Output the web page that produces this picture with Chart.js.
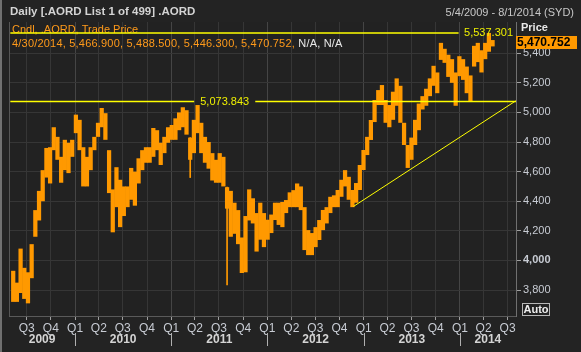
<!DOCTYPE html>
<html>
<head>
<meta charset="utf-8">
<script src="https://cdn.jsdelivr.net/npm/chart.js@4.4.1/dist/chart.umd.min.js"></script>
<style>
  html, body { margin: 0; padding: 0; background: #232323; }
  canvas { display: block; }
</style>
</head>
<body>
<canvas id="chart" width="581" height="352"></canvas>
<script>
// Daily .AORD (low / high)
const startDate = '2009-05-04';
const endDate = '2014-08-01';
const periodDays = 14;

const periodLows = [
  3720, 3720, 3780, 3740, 3710, 3880, 4160, 4270, 4400, 4560,
  4520, 4745, 4680, 4525, 4610, 4590, 4700, 4860, 4745, 4500,
  4500, 4610, 4745, 4835, 4900, 4815, 4455, 4190, 4360, 4225,
  4300, 4360, 4410, 4370, 4520, 4610, 4660, 4660, 4700, 4745,
  4645, 4725, 4795, 4815, 4815, 4880, 4900, 4850, 4680, 4725,
  4860, 4725, 4660, 4620, 4540, 4525, 4525, 4500, 4350, 4160,
  4180, 4110, 3915, 3920, 4270, 4250, 4060, 4140, 4090, 4140,
  4185, 4273, 4240, 4225, 4320, 4360, 4360, 4360, 4340, 4070,
  4036, 4036, 4090, 4138, 4205, 4250, 4320, 4360, 4360, 4430,
  4500, 4410, 4360, 4390, 4476, 4611, 4712, 4814, 4935, 5050,
  5050, 4930, 4900, 4950, 5045, 4930, 4780, 4625, 4680, 4780,
  4880, 5020, 5045, 5110, 5180, 5130, 5355, 5335, 5240, 5200,
  5045, 5245, 5220, 5130, 5075, 5310, 5340, 5270, 5360, 5410,
  5446
];
const periodHighs = [
  3930, 3850, 4080, 3950, 3920, 4110, 4340, 4470, 4610, 4760,
  4765, 4900, 4835, 4700, 4815, 4795, 4815, 4985, 4950, 4765,
  4700, 4765, 4835, 4930, 5030, 4995, 4745, 4480, 4630, 4545,
  4500, 4500, 4625, 4600, 4690, 4745, 4765, 4765, 4895, 4880,
  4795, 4835, 4900, 4915, 4960, 5000, 5035, 5015, 4830, 4950,
  5050, 4930, 4835, 4800, 4725, 4680, 4725, 4700, 4495, 4470,
  4390, 4340, 4155, 4300, 4480, 4420, 4320, 4390, 4320, 4275,
  4310, 4390, 4390, 4395, 4408, 4460, 4475, 4520, 4500, 4360,
  4205, 4185, 4225, 4273, 4341, 4360, 4430, 4440, 4476, 4545,
  4610, 4565, 4476, 4523, 4645, 4746, 4835, 4949, 5084, 5151,
  5185, 5084, 5050, 5140, 5230, 5180, 4930, 4780, 4830, 4950,
  5060, 5110, 5160, 5230, 5315, 5270, 5470, 5430, 5390, 5360,
  5270, 5380, 5360, 5310, 5250, 5450, 5470, 5420, 5470, 5537,
  5489
];
// single-day wicks that stick out of their period: [period, low, high]
const spikes = [[48, 4560, 4830], [58, 3835, 4495]];

const levels = [5537.301, 5073.843];
const trendFrom = ['2012-11-23', 4365];
const trendTo = ['2014-08-01', 5078];

const yTicks = [3800, 4000, 4200, 4400, 4600, 4800, 5000, 5200, 5400];
const years = [2009, 2010, 2011, 2012, 2013, 2014];
const lastBar = ['4/30/2014', '5,466.900', '5,488.500', '5,446.300', '5,470.752'];
const lastClose = 5470.752;

const FONT = '"Liberation Sans", Arial, sans-serif';
const ORANGE = '#ff9900';
const YELLOW = '#ffff00';
const t0 = Date.parse(startDate);
const day = s => (Date.parse(s) - t0) / 864e5;
const xMin = -9;
const xMax = day(endDate) + 1;

// quarter ticks
const quarterTicks = [];
const yearStarts = [];
years.forEach(yr => {
  ['01', '04', '07', '10'].forEach((mm, q) => {
    const d = day(yr + '-' + mm + '-01');
    if (d >= xMin && d <= xMax) quarterTicks.push({ value: d, label: 'Q' + (q + 1) });
    if (q === 0 && d > xMin) yearStarts.push(d);
  });
});

const chartBg = {
  id: 'chartBg',
  beforeDraw(chart) {
    const { ctx, width, height, chartArea: a } = chart;
    ctx.save();
    ctx.fillStyle = '#232323';
    ctx.fillRect(0, 0, width, height);
    ctx.fillStyle = '#222222';
    ctx.fillRect(a.left, a.top, a.right - a.left, a.bottom - a.top);
    ctx.fillStyle = '#707070';
    ctx.fillRect(0, 0, 2, height);
    ctx.restore();
  },
  beforeDatasetsDraw(chart) {
    const { ctx } = chart;
    ctx.save();
    ctx.textBaseline = 'middle';
    ctx.textAlign = 'left';
    ctx.font = '11px ' + FONT;
    ctx.fillStyle = '#ff9a1a';
    ctx.fillText('Cndl, .AORD, Trade Price', 12, 30);
    ctx.letterSpacing = '0.2px';
    const first = lastBar.join(', ') + ', ';
    ctx.fillText(first, 12, 44);
    const w = ctx.measureText(first).width;
    ctx.fillStyle = '#e8e8e8';
    ctx.fillText('N/A, N/A', 12 + w, 44);
    ctx.restore();
  }
};

const overlay = {
  id: 'overlay',
  afterDraw(chart) {
    const { ctx, chartArea: a, scales: { x, y } } = chart;
    ctx.save();
    ctx.textBaseline = 'middle';

    // header
    ctx.textAlign = 'left';
    ctx.font = 'bold 11.5px ' + FONT;
    ctx.fillStyle = '#d4d4d4';
    ctx.fillText('Daily [.AORD List 1 of 499] .AORD', 10, 12);
    ctx.textAlign = 'right';
    ctx.font = '11px ' + FONT;
    ctx.fillStyle = '#c8c8c8';
    ctx.fillText('5/4/2009 - 8/1/2014 (SYD)', 574, 13);

    // frame
    ctx.strokeStyle = '#555555';
    ctx.lineWidth = 1;
    ctx.beginPath();
    ctx.moveTo(a.left + 0.5, a.top);
    ctx.lineTo(a.left + 0.5, a.bottom);
    ctx.stroke();

    // level labels
    ctx.font = '11px ' + FONT;
    ctx.fillStyle = '#eef000';
    ctx.textAlign = 'right';
    ctx.fillText(levels[0].toLocaleString('en-US', { minimumFractionDigits: 3 }), 513, y.getPixelForValue(levels[0]));
    ctx.textAlign = 'center';
    const gx = (x.getPixelForValue(day('2011-03-29')) + x.getPixelForValue(day('2011-11-16'))) / 2;
    ctx.fillText(levels[1].toLocaleString('en-US', { minimumFractionDigits: 3 }), gx, y.getPixelForValue(levels[1]));

    // price header and last value box
    ctx.textAlign = 'left';
    ctx.font = 'bold 11px ' + FONT;
    ctx.fillStyle = '#e8e8e8';
    ctx.fillText('Price', 521, 28);
    const py = y.getPixelForValue(lastClose);
    ctx.fillStyle = ORANGE;
    ctx.fillRect(516, Math.round(py) - 7, 61, 13);
    ctx.fillStyle = '#000000';
    ctx.font = 'bold 12px ' + FONT;
    ctx.fillText(lastBar[4], 517, Math.round(py) - 0.5);

    // auto button
    ctx.strokeStyle = '#b8b8b8';
    ctx.strokeRect(522.5, 303.5, 27, 12);
    ctx.fillStyle = '#eeeeee';
    ctx.font = 'bold 11px ' + FONT;
    ctx.textAlign = 'center';
    ctx.fillText('Auto', 536, 310);

    // year row
    ctx.font = 'bold 12px ' + FONT;
    ctx.fillStyle = '#d4d4d4';
    years.forEach(yr => {
      const d0 = Math.max(x.min, day(yr + '-01-01'));
      const d1 = Math.min(x.max, day((yr + 1) + '-01-01'));
      const cx = (x.getPixelForValue(d0) + x.getPixelForValue(d1)) / 2;
      ctx.fillText(String(yr), cx, 340);
    });
    ctx.strokeStyle = '#b0b0b0';
    yearStarts.forEach(d => {
      const px = Math.round(x.getPixelForValue(d)) + 0.5;
      ctx.beginPath();
      ctx.moveTo(px, 333);
      ctx.lineTo(px, 346);
      ctx.stroke();
    });
    ctx.restore();
  }
};

const bars = periodLows.map((lo, i) => ({ x: periodDays * i + periodDays / 2, y: [lo, periodHighs[i]] }));
const wicks = spikes.map(([i, lo, hi]) => ({ x: periodDays * i + periodDays / 2, y: [lo, hi] }));

const levelLine = pts => ({
  type: 'line',
  data: pts,
  borderColor: YELLOW,
  borderWidth: 1.5,
  pointRadius: 0,
  order: 1
});

new Chart(document.getElementById('chart'), {
  type: 'bar',
  data: {
    datasets: [
      levelLine([{ x: -4, y: levels[0] }, { x: day('2013-12-27'), y: levels[0] }]),
      levelLine([{ x: -4, y: levels[1] }, { x: day('2011-03-29'), y: levels[1] }]),
      levelLine([{ x: day('2011-11-16'), y: levels[1] }, { x: xMax, y: levels[1] }]),
      {
        type: 'line',
        data: [{ x: day(trendFrom[0]), y: trendFrom[1] }, { x: day(trendTo[0]), y: trendTo[1] }],
        borderColor: YELLOW, borderWidth: 1, pointRadius: 0, order: 1
      },
      {
        label: '.AORD',
        data: bars,
        backgroundColor: ORANGE,
        borderWidth: 0,
        barPercentage: 1.15,
        categoryPercentage: 1,
        grouped: false,
        order: 2
      },
      {
        label: 'wicks',
        data: wicks,
        backgroundColor: ORANGE,
        borderWidth: 0,
        barThickness: 1,
        grouped: false,
        order: 2
      }
    ]
  },
  options: {
    responsive: false,
    animation: false,
    devicePixelRatio: 1,
    layout: { padding: { top: 22, left: 9, right: 0, bottom: 0 } },
    plugins: { legend: { display: false }, tooltip: { enabled: false } },
    scales: {
      x: {
        type: 'linear',
        min: xMin,
        max: xMax,
        bounds: 'data',
        offset: false,
        grid: {
          offset: false,
          color: c => (c.tick && yearStarts.includes(c.tick.value)) ? '#454545' : '#363636',
          tickLength: 4,
          tickColor: '#a0a0a0'
        },
        border: { color: '#5a5a5a' },
        ticks: {
          autoSkip: false,
          maxRotation: 0,
          padding: 1,
          color: '#c8ccd4',
          font: { family: FONT, size: 12 },
          callback: v => (quarterTicks.find(q => q.value === v) || {}).label || ''
        },
        afterBuildTicks: s => { s.ticks = quarterTicks.map(q => ({ value: q.value })); },
        afterFit: s => { s.height = 36; }
      },
      y: {
        position: 'right',
        min: 3624.6,
        max: 5611,
        grid: { color: '#363636', tickLength: 5, tickColor: '#a0a0a0' },
        border: { color: '#707070' },
        ticks: {
          padding: 2,
          color: '#c8ccd4',
          font: c => ({ family: FONT, size: 11, weight: (c.tick && c.tick.value === 4000) ? 'bold' : 'normal' }),
          callback: v => v.toLocaleString('en-US')
        },
        afterBuildTicks: s => { s.ticks = yTicks.map(v => ({ value: v })); },
        afterFit: s => { s.width = 65; }
      }
    }
  },
  plugins: [chartBg, overlay]
});
</script>
</body>
</html>
